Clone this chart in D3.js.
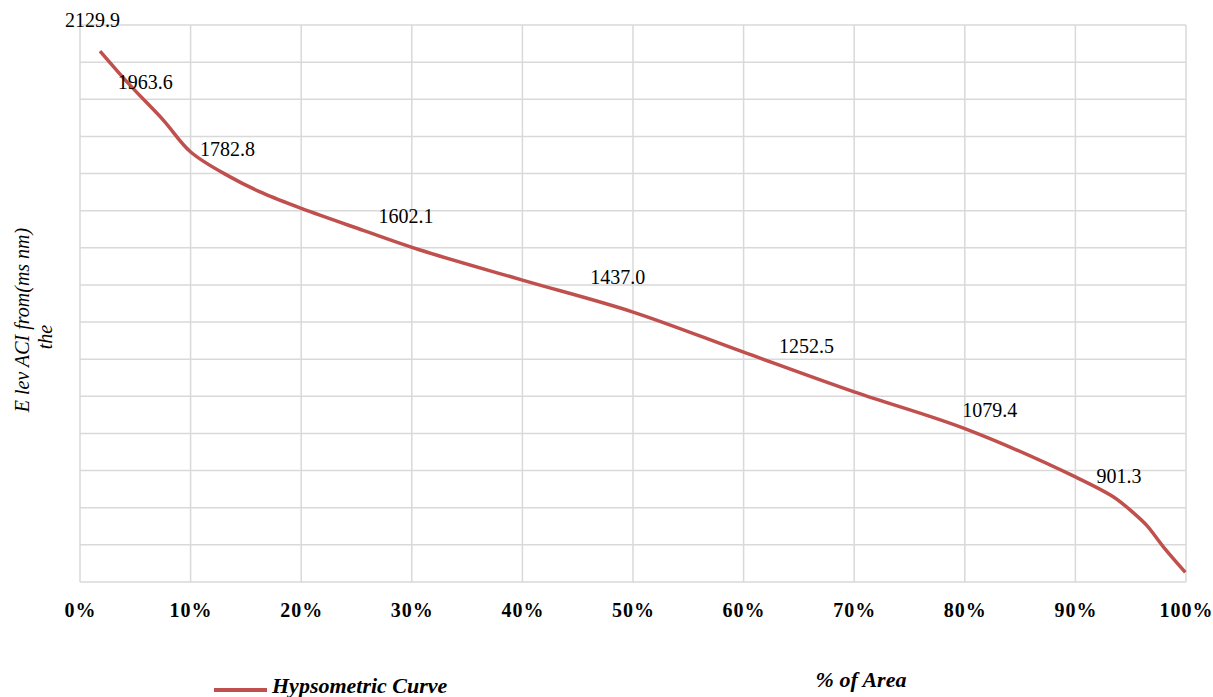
<!DOCTYPE html>
<html>
<head>
<meta charset="utf-8">
<script src="https://cdn.jsdelivr.net/npm/d3@7"></script>
<style>
  body { margin: 0; background: #fff; }
  svg { display: block; font-family: "Liberation Serif", "DejaVu Serif", serif; }
</style>
</head>
<body>
<div id="chart-area"></div>
<script>
// hypsometric curve
var areaPct = [1.81, 4.52, 7.53, 10.01, 13.57, 16.55, 20.01, 25.6, 30.75, 40.0,
    50.0, 60.0, 70.0, 80.0, 90.0, 93.45, 95.26, 96.47, 97.97, 99.94];
var elevation = [2129.9, 2038, 1944, 1858, 1791, 1747, 1706, 1647, 1594, 1513,
    1427, 1319, 1212, 1113, 983, 929, 886, 852, 794, 726];

// data labels (area %, elevation)
var labelArea = [1.13, 5.91, 13.34, 29.47, 48.61, 65.69, 82.26, 93.95];
var labelElev = [2129.9, 1963.6, 1782.8, 1602.1, 1437.0, 1252.5, 1079.4, 901.3];

var xTicks = [0, 10, 20, 30, 40, 50, 60, 70, 80, 90, 100];
var yGrid = d3.range(700, 2201, 100);

var margin = { left: 80, right: 27, top: 25, bottom: 115 };
var width = 1213 - margin.left - margin.right,
    height = 697 - margin.top - margin.bottom;

var svg = d3.select("#chart-area")
    .append("svg")
    .attr("width", 1213)
    .attr("height", 697);

var g = svg.append("g")
    .attr("transform", "translate(" + margin.left + "," + margin.top + ")");

var x = d3.scaleLinear().domain([0, 100]).range([0, width]);
var y = d3.scaleLinear().domain([700, 2200]).range([height, 0]);

var gridColor = "#d9d9d9";

// horizontal grid
g.append("g")
    .selectAll("line")
    .data(yGrid)
    .enter()
    .append("line")
    .attr("x1", 0)
    .attr("x2", width)
    .attr("y1", function (d) { return y(d); })
    .attr("y2", function (d) { return y(d); })
    .attr("stroke", gridColor)
    .attr("stroke-width", 1.5);

// vertical grid
g.append("g")
    .selectAll("line")
    .data(xTicks)
    .enter()
    .append("line")
    .attr("x1", function (d) { return x(d); })
    .attr("x2", function (d) { return x(d); })
    .attr("y1", 0)
    .attr("y2", height)
    .attr("stroke", gridColor)
    .attr("stroke-width", 1.5);

// x axis labels
var xAxisCall = d3.axisBottom(x)
    .tickValues(xTicks)
    .tickSize(0)
    .tickPadding(0)
    .tickFormat(function (d) { return d + "%"; });

var xAxis = g.append("g")
    .attr("class", "x axis")
    .attr("transform", "translate(0," + height + ")")
    .call(xAxisCall);
xAxis.select(".domain").remove();
xAxis.selectAll("text")
    .attr("y", 35)
    .attr("dy", 0)
    .attr("fill", "#000")
    .attr("font-family", "Liberation Serif, serif")
    .attr("font-size", "20px")
    .attr("font-weight", "bold")
    .attr("letter-spacing", "1px");

// the curve
var line = d3.line()
    .x(function (d, i) { return x(areaPct[i]); })
    .y(function (d) { return y(d); })
    .curve(d3.curveCatmullRom.alpha(0.5));

g.append("path")
    .datum(elevation)
    .attr("d", line)
    .attr("fill", "none")
    .attr("stroke", "#c0504d")
    .attr("stroke-width", 3.5)
    .attr("stroke-linejoin", "round");

// data labels
g.append("g")
    .selectAll("text")
    .data(labelElev)
    .enter()
    .append("text")
    .attr("x", function (d, i) { return x(labelArea[i]); })
    .attr("y", function (d) { return y(d) - 24; })
    .attr("text-anchor", "middle")
    .attr("font-size", "20px")
    .attr("fill", "#000")
    .text(function (d) { return d.toFixed(1); });

// y label (two lines)
var yLab = svg.append("text")
    .attr("transform", "translate(29,320) rotate(-90)")
    .attr("text-anchor", "middle")
    .attr("font-size", "20px")
    .attr("font-style", "italic")
    .attr("fill", "#000");
yLab.append("tspan").attr("x", 0).attr("y", 0).text("E lev ACI from(ms nm)");
yLab.append("tspan").attr("x", -17).attr("y", 23).text("the");

// x label
svg.append("text")
    .attr("x", 861)
    .attr("y", 687)
    .attr("text-anchor", "middle")
    .attr("font-size", "22px")
    .attr("font-weight", "bold")
    .attr("font-style", "italic")
    .attr("fill", "#000")
    .text("% of Area");

// legend
svg.append("line")
    .attr("x1", 214)
    .attr("x2", 267)
    .attr("y1", 690)
    .attr("y2", 690)
    .attr("stroke", "#c0504d")
    .attr("stroke-width", 4);

svg.append("text")
    .attr("x", 272)
    .attr("y", 693)
    .attr("font-size", "22px")
    .attr("font-weight", "bold")
    .attr("font-style", "italic")
    .attr("fill", "#000")
    .text("Hypsometric Curve");
</script>
</body>
</html>
